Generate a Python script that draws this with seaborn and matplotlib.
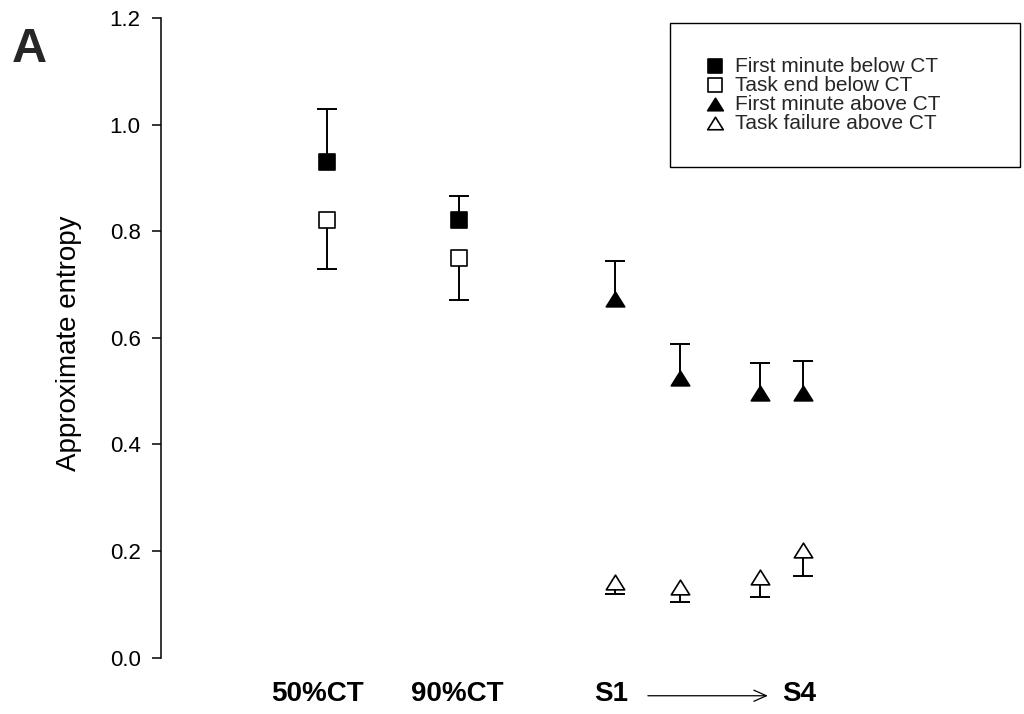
import numpy as np
import pandas as pd
import matplotlib
matplotlib.use("Agg")
import matplotlib.pyplot as plt
import seaborn as sns
from matplotlib.path import Path

sns.set_theme(style="ticks")
plt.rcParams["font.family"] = ["Liberation Sans", "DejaVu Sans"]

# ---------------- data ----------------
conditions = ["50%CT", "90%CT", "S1", "S2", "S3", "S4"]
below_conditions = ["50%CT", "90%CT"]
above_conditions = ["S1", "S2", "S3", "S4"]

first_min_below = [0.931, 0.821]
first_min_below_err = [0.098, 0.045]     # upward
task_end_below = [0.821, 0.751]
task_end_below_err = [0.091, 0.080]      # downward
first_min_above = [0.674, 0.525, 0.497, 0.497]
first_min_above_err = [0.070, 0.063, 0.056, 0.060]   # upward
task_fail_above = [0.142, 0.132, 0.151, 0.202]
task_fail_above_err = [0.023, 0.028, 0.038, 0.049]   # downward

series_labels = ["First minute below CT", "Task end below CT",
                 "First minute above CT", "Task failure above CT"]
x_tick_labels = ["50%CT", "90%CT", "S1", "S4"]
y_label = "Approximate entropy"
panel_letter = "A"

# ---------------- layout ----------------
x_pos = {"50%CT": 1.0, "90%CT": 2.0, "S1": 3.188, "S2": 3.683, "S3": 4.292, "S4": 4.620}
tick_pos = [0.926, 1.989, 3.158, 4.590]

tri = Path([(-1, -0.8), (1, -0.8), (0, 0.8), (-1, -0.8)],
           [Path.MOVETO, Path.LINETO, Path.LINETO, Path.CLOSEPOLY])

specs = [
    (series_labels[0], below_conditions, first_min_below, first_min_below_err, "up", "s", "black", 132),
    (series_labels[1], below_conditions, task_end_below, task_end_below_err, "down", "s", "white", 132),
    (series_labels[2], above_conditions, first_min_above, first_min_above_err, "up", tri, "black", 175),
    (series_labels[3], above_conditions, task_fail_above, task_fail_above_err, "down", tri, "white", 175),
]

fig = plt.figure(figsize=(10.24, 7.14), dpi=100)
ax = fig.add_axes([0.157, 0.0791, 0.839, 0.8952])

for label, conds, vals, errs, direction, marker, face, size in specs:
    df = pd.DataFrame({"x": [x_pos[c] for c in conds], "y": vals, "err": errs})
    zeros = np.zeros(len(df))
    yerr = [zeros, df["err"].values] if direction == "up" else [df["err"].values, zeros]
    cont = ax.errorbar(df["x"], df["y"], yerr=yerr, fmt="none", ecolor="black",
                       elinewidth=1.4, capsize=7, capthick=1.4, zorder=2, clip_on=False)
    # one-sided bars: hide the cap that sits on the point itself
    for cap in cont[1]:
        if np.allclose(np.asarray(cap.get_ydata(), dtype=float), df["y"].values):
            cap.set_visible(False)
    sns.scatterplot(data=df, x="x", y="y", marker=marker, s=size, color=face,
                    edgecolor="black", linewidth=1.2, label=label, ax=ax,
                    zorder=3, clip_on=False)

ax.set_xlim(-0.2696, 6.273)
ax.set_ylim(0, 1.2)
ax.set_yticks(np.arange(0, 1.21, 0.2))
ax.set_yticklabels([f"{v:.1f}" for v in np.arange(0, 1.21, 0.2)])
ax.tick_params(axis="y", direction="out", length=6.5, width=1.1, labelsize=16,
               pad=8, colors="black")
ax.set_xticks(tick_pos)
ax.set_xticklabels(x_tick_labels, fontsize=20, fontweight="bold")
ax.tick_params(axis="x", length=0, pad=17, colors="black")
ax.set_xlabel("")
ax.set_ylabel(y_label, fontsize=20, color="black")
ax.yaxis.set_label_coords(-0.092, 0.492)

for side in ["top", "right", "bottom"]:
    ax.spines[side].set_visible(False)
ax.spines["left"].set_linewidth(1.1)
ax.spines["left"].set_color("black")

# arrow between S1 and S4
ax.annotate("", xy=(4.354, -0.0598), xytext=(3.44, -0.0598),
            xycoords=("data", "axes fraction"), textcoords=("data", "axes fraction"),
            arrowprops=dict(arrowstyle="->,head_length=0.45,head_width=0.2",
                            lw=0.9, color="black", shrinkA=0, shrinkB=0,
                            mutation_scale=20),
            annotation_clip=False)

leg = ax.legend(loc="upper left", bbox_to_anchor=(0.5925, 0.7627, 0.4075, 0.2305),
                mode="expand", borderaxespad=0, fontsize=15, frameon=True,
                fancybox=False, edgecolor="black", framealpha=1,
                borderpad=1.64, labelspacing=0.0, handlelength=1.06,
                handletextpad=0.43, markerscale=0.85)
leg.get_frame().set_linewidth(1.0)

fig.text(12 / 1024, 0.962, panel_letter, fontsize=35, fontweight="bold",
         va="top", ha="left")

fig.savefig("out.png", dpi=100)
